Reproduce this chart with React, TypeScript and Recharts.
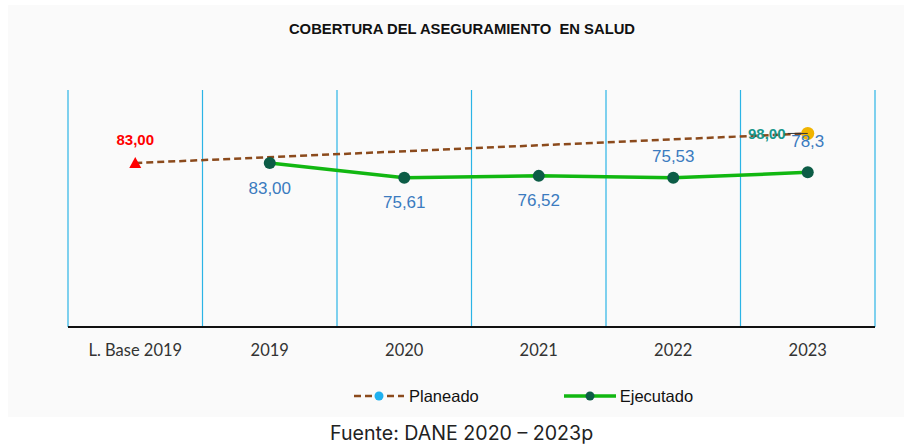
import React from 'react';
import { LineChart, Line, XAxis, YAxis, CartesianGrid, LabelList } from 'recharts';

const categories = ['L. Base 2019', '2019', '2020', '2021', '2022', '2023'];
const planeado: (number | null)[] = [83, null, null, null, null, 98];
const ejecutado: (number | null)[] = [null, 83, 75.61, 76.52, 75.53, 78.3];
const ejecutadoDecimals = [2, 2, 2, 2, 2, 1];
const planeadoDecimals = [2, 2, 2, 2, 2, 2];

const data = categories.map((c, i) => ({ cat: c, planeado: planeado[i], ejecutado: ejecutado[i] }));

const W = 904;
const H = 447;
const fmt = (v: number, d: number) => v.toFixed(d).replace('.', ',');

// label placement per category for Ejecutado (below / above)
const ejecPlacement = ['below', 'below', 'below', 'below', 'above', 'above'];

const PlanDot = (props: any) => {
  const { cx, cy, index } = props;
  if (cx == null || cy == null || planeado[index] == null) return <g key={`pd${index}`} />;
  if (index === 0) {
    return (
      <polygon
        key={`pd${index}`}
        points={`${cx},${cy - 6} ${cx + 6},${cy + 5} ${cx - 6},${cy + 5}`}
        fill="#ff0000"
      />
    );
  }
  return <circle key={`pd${index}`} cx={cx} cy={cy} r={6.5} fill="#f0b400" />;
};

const EjecDot = (props: any) => {
  const { cx, cy, index } = props;
  if (cx == null || cy == null || ejecutado[index] == null) return <g key={`ed${index}`} />;
  return <circle key={`ed${index}`} cx={cx} cy={cy} r={6} fill="#0c5c46" />;
};

const PlanLabel = (props: any) => {
  const { x, y, index } = props;
  const v = planeado[index];
  if (v == null || x == null || y == null) return null;
  if (index === 0) {
    return (
      <text x={x} y={y - 24} textAnchor="middle" dominantBaseline="central" fill="#ff0000" fontSize={15} fontWeight="bold" fontFamily="'Liberation Sans', Arial, sans-serif">
        {fmt(v, planeadoDecimals[index])}
      </text>
    );
  }
  return (
    <g>
      <line x1={x - 20} y1={y} x2={x} y2={y} stroke="#333" strokeWidth={1} />
      <text x={x - 41} y={y} textAnchor="middle" dominantBaseline="central" fill="#17968a" fontSize={15} fontWeight="bold" fontFamily="'Liberation Sans', Arial, sans-serif">
        {fmt(v, planeadoDecimals[index])}
      </text>
    </g>
  );
};

const EjecLabel = (props: any) => {
  const { x, y, index } = props;
  const v = ejecutado[index];
  if (v == null || x == null || y == null) return null;
  const above = ejecPlacement[index] === 'above';
  const dy = above ? (index === 5 ? -31 : -21) : 25;
  return (
    <text x={x} y={y + dy} textAnchor="middle" dominantBaseline="central" fill="#3b7bbf" fontSize={17} fontFamily="'Liberation Sans', Arial, sans-serif">
      {fmt(v, ejecutadoDecimals[index])}
    </text>
  );
};

const gridGen = ({ offset }: any) => {
  const n = categories.length;
  const xs: number[] = [];
  for (let i = 0; i <= n; i++) xs.push(offset.left + (i * offset.width) / n);
  return xs;
};

export default function App() {
  return (
    <div style={{ position: 'absolute', left: 0, top: 0, width: W, height: H, background: '#ffffff', overflow: 'hidden' }}>
      <div style={{ position: 'absolute', left: 8, top: 5, width: 896, height: 412, background: '#fafafa' }} />
      <div
        style={{
          position: 'absolute', left: 0, top: 20, width: 924, textAlign: 'center',
          fontFamily: "'Liberation Sans', Arial, sans-serif", fontWeight: 'bold', fontSize: 14.8, color: '#111',
          whiteSpace: 'pre', lineHeight: '18px',
        }}
      >
        {'COBERTURA DEL ASEGURAMIENTO  EN SALUD'}
      </div>
      <div style={{ position: 'absolute', left: 0, top: 0 }}>
        <LineChart width={W} height={H} data={data} margin={{ top: 90, right: 29, left: 68, bottom: 80 }}>
          <CartesianGrid horizontal={false} stroke="#2bb4e6" strokeWidth={1.2} verticalCoordinatesGenerator={gridGen} />
          <XAxis
            dataKey="cat"
            scale="band"
            height={40}
            axisLine={{ stroke: '#111', strokeWidth: 2 }}
            tickLine={false}
            tickMargin={11}
            tick={{ fill: '#333', fontSize: 16.5, fontFamily: 'Lato, Carlito, sans-serif' }}
            interval={0}
          />
          <YAxis hide domain={[0, 120]} />
          <Line
            dataKey="planeado"
            stroke="#8b4a1c"
            strokeWidth={2.5}
            strokeDasharray="7 4"
            connectNulls
            dot={PlanDot}
            activeDot={false}
            isAnimationActive={false}
          >
            <LabelList dataKey="planeado" content={PlanLabel} />
          </Line>
          <Line
            dataKey="ejecutado"
            stroke="#11b711"
            strokeWidth={3.5}
            dot={EjecDot}
            activeDot={false}
            isAnimationActive={false}
          >
            <LabelList dataKey="ejecutado" content={EjecLabel} />
          </Line>
        </LineChart>
      </div>
      {/* legend */}
      <div style={{ position: 'absolute', left: 352, top: 385, height: 22, display: 'flex', alignItems: 'center', fontFamily: "'Liberation Sans', Arial, sans-serif", fontSize: 16.5, color: '#111' }}>
        <svg width={54} height={12} style={{ marginRight: 3 }}>
          <line x1={2} y1={6} x2={52} y2={6} stroke="#8b4a1c" strokeWidth={2.5} strokeDasharray="7 4" />
          <circle cx={27} cy={6} r={4.5} fill="#1fb0ef" />
        </svg>
        <span>Planeado</span>
        <svg width={54} height={12} style={{ marginLeft: 84, marginRight: 3 }}>
          <line x1={1} y1={6} x2={53} y2={6} stroke="#11b711" strokeWidth={3.5} />
          <circle cx={27} cy={6} r={4.5} fill="#0c5c46" />
        </svg>
        <span>Ejecutado</span>
      </div>
      <div style={{ position: 'absolute', left: 330, top: 420, fontFamily: "Inter, 'Noto Sans', sans-serif", fontSize: 19.6, color: '#222', whiteSpace: 'nowrap', lineHeight: '26px' }}>
        Fuente: DANE 2020 – 2023p
      </div>
    </div>
  );
}
